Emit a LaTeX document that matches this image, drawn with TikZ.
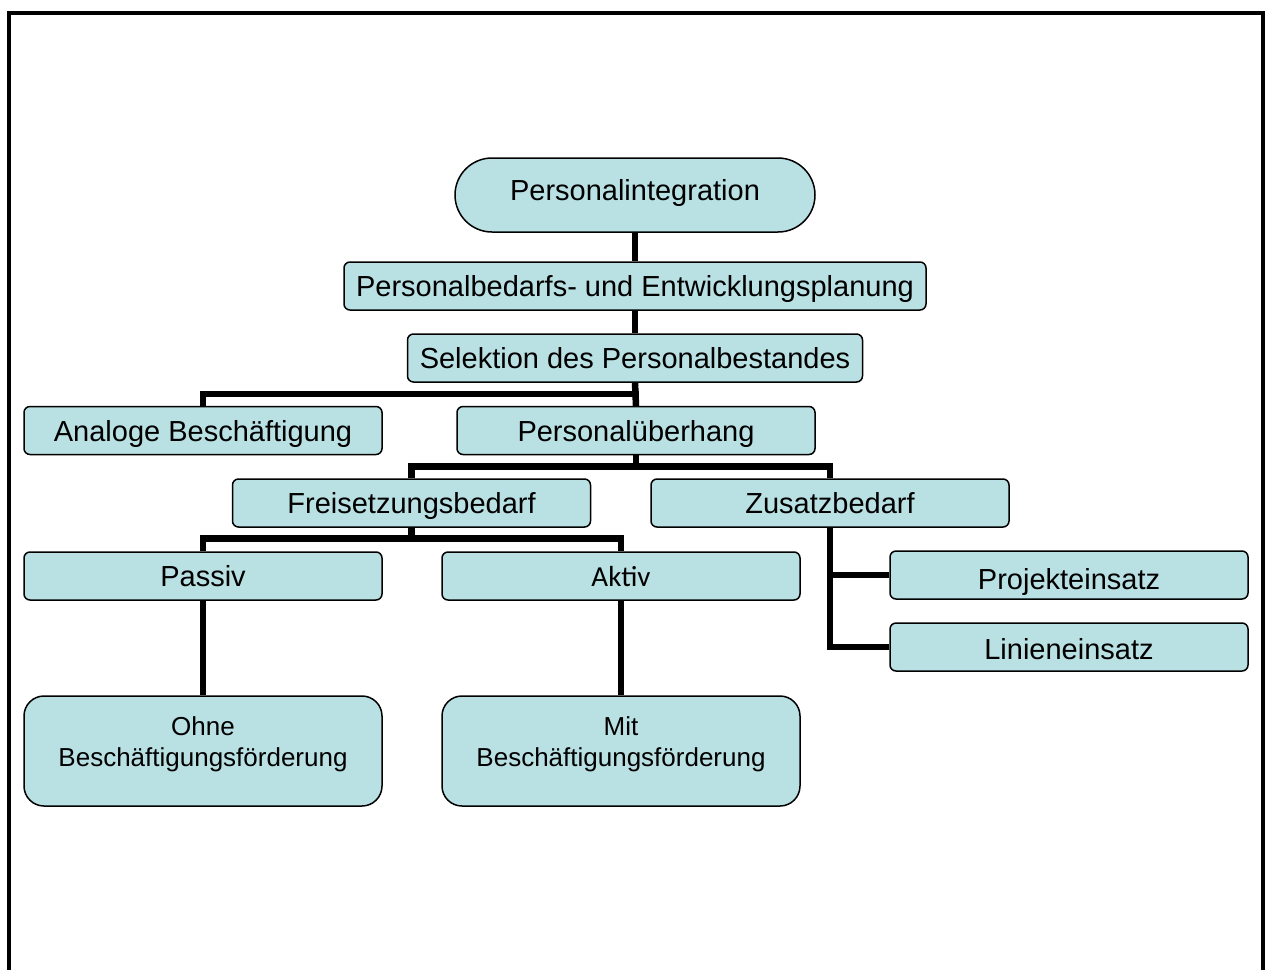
\documentclass[tikz,border=0pt]{standalone}
\usepackage{fontspec}
\setmainfont{Liberation Sans}
\newfontfamily\aktivfont{Carlito}
\usepackage{xcolor}
\usetikzlibrary{positioning}
\definecolor{boxcyan}{RGB}{185,224,227}

\begin{document}
\begin{tikzpicture}[x=1pt,y=-1pt,
    box/.style={draw=black, line width=1.5pt, fill=boxcyan, rounded corners=6pt,
        minimum width=358pt, minimum height=48pt, inner sep=0pt,
        font=\fontsize{29}{34}\selectfont, text height=21pt, text depth=0pt},
    tallbox/.style={box, minimum height=110pt, rounded corners=20pt},
    link/.style={line width=6.5pt, line join=miter}]
                \useasboundingbox (0,0) rectangle (1266,970);
                \draw[line width=4pt, line join=miter] (8.5,970) -- (8.5,13) -- (1263,13) -- (1263,970);
                \node[box, minimum width=360pt, minimum height=74pt, rounded corners=37pt, text depth=10pt] (integ) at (635,195) {Personalintegration};
                \node[box, minimum width=582pt] (planung) at (635,286) {Personalbedarfs- und Entwicklungsplanung};
                \node[box, minimum width=455pt] (selektion) at (635,358) {Selektion des Personalbestandes};
                \node[box] (analog) at (203,430.5) {Analoge Beschäftigung};
                \node[box] (ueberhang) at (636,430.5) {Personalüberhang};
                \node[box] (freisetz) at (411.5,503) {Freisetzungsbedarf};
                \node[box] (zusatz) at (830,503) {Zusatzbedarf};
                \node[box] (passiv) at (203,576) {Passiv};
                \node[box, font=\aktivfont\fontsize{29}{34}\selectfont] (aktiv) at (621,576) {Aktiv};
                \node[box, text height=28pt] (projekt) at (1069,575) {Projekteinsatz};
                \node[box, text height=24pt] (linie) at (1069,647) {Linieneinsatz};
                \node[tallbox] (ohne) at (203,751) {};
                \node[tallbox] (mit) at (621,751) {};
                \node[align=center, inner sep=0pt, font=\fontsize{26}{31}\selectfont, below=21pt of ohne.north] (ohnetext) {Ohne\\Beschäftigungsförderung};
                \node[align=center, inner sep=0pt, font=\fontsize{26}{31}\selectfont, below=21pt of mit.north] (mittext) {Mit\\Beschäftigungsförderung};
                \draw[link] (integ) -- (planung);
                \draw[link] (planung) -- (selektion);
                \draw[link] (selektion.south) -- (ueberhang.north);
                \draw[link] (analog.north) -- ++(0,-12) -| (ueberhang.north);
                \draw[link] (ueberhang.south) -- ++(0,12);
                \draw[link] (freisetz.north) -- ++(0,-12) -| (zusatz.north);
                \draw[link] (freisetz.south) -- ++(0,12);
                \draw[link] (passiv.north) -- ++(0,-13) -| (aktiv.north);
                \draw[link] (zusatz.south) |- (projekt.west);
                \draw[link] (zusatz.south) |- (linie.west);
                \draw[link] (passiv) -- (ohne);
                \draw[link] (aktiv) -- (mit);
            \end{tikzpicture}
\end{document}
